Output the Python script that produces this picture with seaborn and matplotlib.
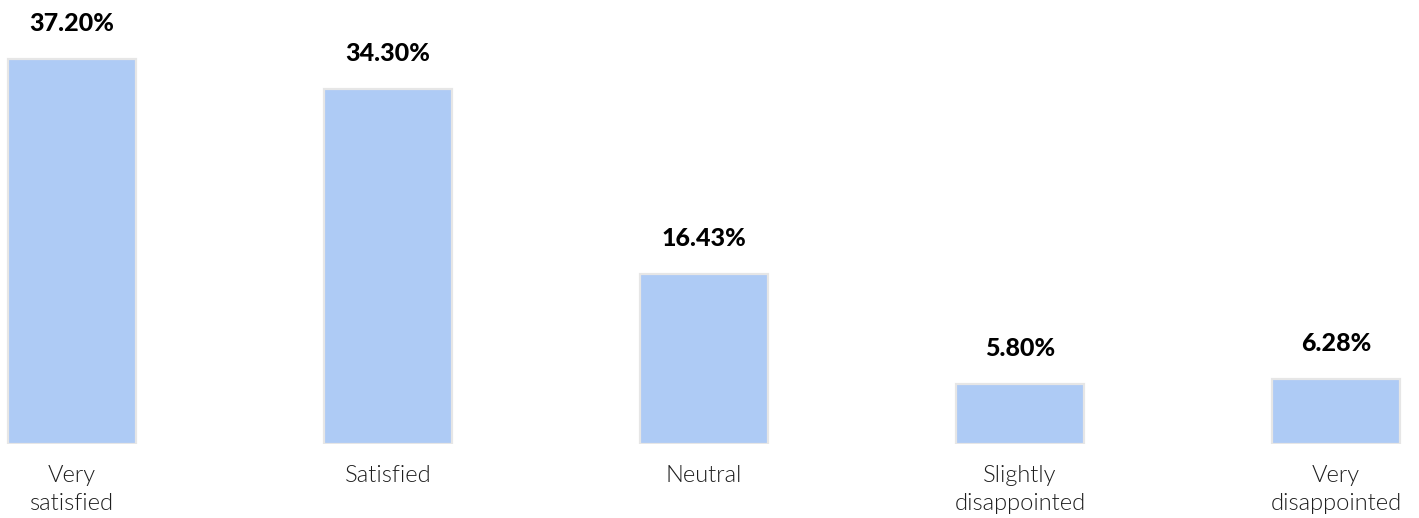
import matplotlib
matplotlib.use("Agg")
import matplotlib.pyplot as plt
import seaborn as sns
import pandas as pd

categories = ["Very\nsatisfied", "Satisfied", "Neutral", "Slightly\ndisappointed", "Very\ndisappointed"]
values = [37.20, 34.30, 16.43, 5.80, 6.28]
value_labels = ["37.20%", "34.30%", "16.43%", "5.80%", "6.28%"]

df = pd.DataFrame({"category": categories, "value": values})

sns.set_theme(style="white")
plt.rcParams["font.family"] = ["Lato", "DejaVu Sans"]

fig = plt.figure(figsize=(14.19, 5.18), dpi=100)
ax = fig.add_axes([0, 74 / 518, 1, 444 / 518])

sns.barplot(data=df, x="category", y="value", color="#aecbf5", saturation=1,
            width=0.405, edgecolor="#e6e6e6", linewidth=1.6, ax=ax)

ax.set_xlim(-0.228, -0.228 + 1419 / 316)
ax.set_ylim(0, 444 / 10.35)

for i, (v, lab) in enumerate(zip(values, value_labels)):
    ax.annotate(lab, xy=(i, v), xytext=(0, 17), textcoords="offset points",
                ha="center", va="bottom", fontsize=18, fontweight="black",
                color="#000000")

ax.set_xlabel("")
ax.set_ylabel("")
ax.set_yticks([])
ax.tick_params(axis="x", length=0, pad=15, labelsize=17)
for t in ax.get_xticklabels():
    t.set_fontweight(300)
    t.set_color("#1e1e1e")
    t.set_linespacing(1.45)
for s in ax.spines.values():
    s.set_visible(False)

fig.savefig("out.png", dpi=100, facecolor="white")
